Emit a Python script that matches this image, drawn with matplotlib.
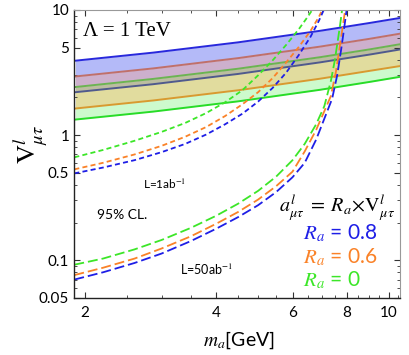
import matplotlib
matplotlib.use("Agg")
import matplotlib.pyplot as plt
from matplotlib.ticker import FixedLocator, NullFormatter

plt.rcParams["font.family"] = ["Lato", "DejaVu Sans"]
plt.rcParams["mathtext.fontset"] = "stix"

# solid band edges (R_a = 0.8 / 0.6 / 0 bands)
band_x = [1.90, 2.87, 4.50, 6.94, 9.03, 10.6]
blue_top = [3.93, 4.56, 5.51, 6.81, 7.87, 8.63]
red_edge = [2.94, 3.41, 4.12, 5.09, 5.88, 6.46]
green_top = [2.42, 2.81, 3.39, 4.19, 4.84, 5.32]
slate_edge = [2.20, 2.55, 3.08, 3.81, 4.40, 4.83]
orange_edge = [1.63, 1.89, 2.28, 2.82, 3.26, 3.56]
green_bot = [1.33, 1.54, 1.86, 2.30, 2.66, 2.92]

# L = 1 ab^-1 curves
l1_x = [1.89, 2.2, 2.6, 3.0, 3.4, 3.8, 4.2, 4.6, 5.0, 5.4, 5.8, 6.2]
l1_green_y = [0.664, 0.76, 0.90, 1.06, 1.25, 1.50, 1.83, 2.28, 3.0, 3.95, 5.25, 7.0]
l1_green_tail_x = [6.2, 6.5, 6.7, 6.8]
l1_green_tail_y = [7.0, 8.8, 10.3, 11.3]
l1_orange_y = [0.532, 0.60, 0.70, 0.82, 0.97, 1.16, 1.42, 1.76, 2.20, 2.85, 3.80, 5.05]
l1_orange_tail_x = [6.2, 6.6, 6.9, 7.05, 7.12]
l1_orange_tail_y = [5.05, 6.8, 8.8, 10.3, 11.2]
l1_blue_y = [0.494, 0.55, 0.63, 0.73, 0.85, 1.01, 1.22, 1.48, 1.85, 2.38, 3.15, 4.35]
l1_blue_tail_x = [6.2, 6.6, 6.9, 7.08, 7.15]
l1_blue_tail_y = [4.35, 6.1, 8.2, 10.0, 11.2]

# L = 50 ab^-1 curves
l50_x = [1.89, 2.2, 2.6, 3.0, 3.5, 4.0, 4.5, 5.0, 5.5, 6.0, 6.4, 6.8, 7.1]
l50_green_y = [0.092, 0.103, 0.122, 0.145, 0.181, 0.226, 0.283, 0.358, 0.465, 0.63, 0.85, 1.22, 1.70]
l50_green_tail_x = [7.1, 7.35, 7.5, 7.62, 7.72, 7.80, 7.84]
l50_green_tail_y = [1.70, 2.7, 3.9, 5.6, 7.6, 10.0, 11.5]
l50_orange_y = [0.076, 0.087, 0.103, 0.124, 0.155, 0.195, 0.243, 0.305, 0.39, 0.51, 0.74, 1.10, 1.55]
l50_orange_tail_x = [7.1, 7.35, 7.55, 7.7, 7.82, 7.93, 7.97]
l50_orange_tail_y = [1.55, 2.05, 3.2, 5.0, 7.2, 10.0, 11.5]
l50_blue_y = [0.070, 0.080, 0.095, 0.113, 0.142, 0.178, 0.221, 0.275, 0.350, 0.46, 0.60, 0.92, 1.35]
l50_blue_tail_x = [7.1, 7.4, 7.6, 7.76, 7.88, 7.99, 8.03]
l50_blue_tail_y = [1.35, 1.95, 3.0, 4.8, 7.0, 10.0, 11.5]

x_ticks = [2, 4, 6, 8, 10]
y_ticks = [0.05, 0.1, 0.5, 1, 5, 10]
y_tick_labels = ["0.05", "0.1", "0.5", "1", "5", "10"]

blue = "#1e1ee6"
orange = "#fa8228"
green = "#3ce628"

fig = plt.figure(figsize=(4.09, 3.55), dpi=100)
ax = fig.add_axes([0.181, 0.161, 0.797, 0.811])
ax.set_xscale("log")
ax.set_yscale("log")

# overlapping bands drawn as stripes
ax.fill_between(band_x, red_edge, blue_top, color="#b4baf8", lw=0)
ax.fill_between(band_x, green_top, red_edge, color="#cdb0cd", lw=0)
ax.fill_between(band_x, slate_edge, green_top, color="#bcbda0", lw=0)
ax.fill_between(band_x, orange_edge, slate_edge, color="#e1dc9e", lw=0)
ax.fill_between(band_x, green_bot, orange_edge, color="#cdfacd", lw=0)

ax.plot(band_x, blue_top, color="#2828dc", lw=1.4)
ax.plot(band_x, red_edge, color="#c0706a", lw=1.4)
ax.plot(band_x, green_top, color="#6cb452", lw=1.4)
ax.plot(band_x, slate_edge, color="#505a8c", lw=1.4)
ax.plot(band_x, orange_edge, color="#d89a30", lw=1.4)
ax.plot(band_x, green_bot, color="#28dc28", lw=1.4)

short = (0, (2.8, 1.8))
long_ = (0, (5.5, 2.2))
curves = [
    (l1_x + l1_green_tail_x[1:], l1_green_y + l1_green_tail_y[1:], green, short),
    (l1_x + l1_orange_tail_x[1:], l1_orange_y + l1_orange_tail_y[1:], orange, short),
    (l1_x + l1_blue_tail_x[1:], l1_blue_y + l1_blue_tail_y[1:], blue, short),
    (l50_x + l50_green_tail_x[1:], l50_green_y + l50_green_tail_y[1:], green, long_),
    (l50_x + l50_orange_tail_x[1:], l50_orange_y + l50_orange_tail_y[1:], orange, long_),
    (l50_x + l50_blue_tail_x[1:], l50_blue_y + l50_blue_tail_y[1:], blue, long_),
]
for xs, ys, c, ls in curves:
    ax.plot(xs, ys, color=c, lw=1.3, ls=ls)

ax.set_xlim(1.887, 10.6)
ax.set_ylim(0.05, 10)

ax.xaxis.set_major_locator(FixedLocator(x_ticks))
ax.set_xticklabels([str(t) for t in x_ticks])
ax.xaxis.set_minor_locator(FixedLocator([2.5, 3, 3.5, 4.5, 5, 5.5, 6.5, 7, 7.5, 8.5, 9, 9.5, 10.5]))
ax.xaxis.set_minor_formatter(NullFormatter())
ax.yaxis.set_major_locator(FixedLocator(y_ticks))
ax.set_yticklabels(y_tick_labels)
ax.yaxis.set_minor_locator(FixedLocator([0.06, 0.07, 0.08, 0.09, 0.2, 0.3, 0.4, 0.6, 0.7, 0.8, 0.9,
                                         2, 3, 4, 6, 7, 8, 9]))
ax.yaxis.set_minor_formatter(NullFormatter())
ax.tick_params(which="both", direction="in", top=True, right=True, labelsize=11, colors="#333333")
ax.tick_params(which="both", labelcolor="black")
ax.tick_params(which="major", length=4, width=0.8)
ax.tick_params(which="minor", length=2, width=0.6)
ax.tick_params(axis="x", pad=6)
for side in ["top", "right"]:
    ax.spines[side].set_color("#999999")
for side in ["left", "bottom"]:
    ax.spines[side].set_color("#222222")
    ax.spines[side].set_linewidth(1.0)

ax.text(0.028, 0.924, "Λ = 1 TeV", transform=ax.transAxes, fontsize=15,
        family="Liberation Serif", va="center", ha="left")
ax.text(0.212, 0.396, r"L=1ab$^{-1}$", transform=ax.transAxes, fontsize=8.5, va="center")
ax.text(0.071, 0.288, "95% CL.", transform=ax.transAxes, fontsize=10, va="center")
ax.text(0.325, 0.097, r"L=50ab$^{-1}$", transform=ax.transAxes, fontsize=9, va="center")
ax.text(0.985, 0.312, r"$a^{l}_{\mu\tau}\;=\;R_a\!\times\! \mathrm{V}^{l}_{\mu\tau}$",
        transform=ax.transAxes, fontsize=14.5, ha="right", va="center")
ax.text(0.702, 0.226, r"$R_a$ = 0.8", transform=ax.transAxes, fontsize=15, color=blue, va="center")
ax.text(0.702, 0.142, r"$R_a$ = 0.6", transform=ax.transAxes, fontsize=15, color=orange, va="center")
ax.text(0.702, 0.0625, r"$R_a$ = 0", transform=ax.transAxes, fontsize=15, color=green, va="center")

fig.text(0.073, 0.592, r"$\mathrm{V}^{l}_{\mu\tau}$", rotation=90, fontsize=19,
         ha="center", va="center")
fig.text(0.584, 0.042, r"$m_a$[GeV]", fontsize=14, ha="center", va="center")

fig.savefig("out.png", dpi=100)
